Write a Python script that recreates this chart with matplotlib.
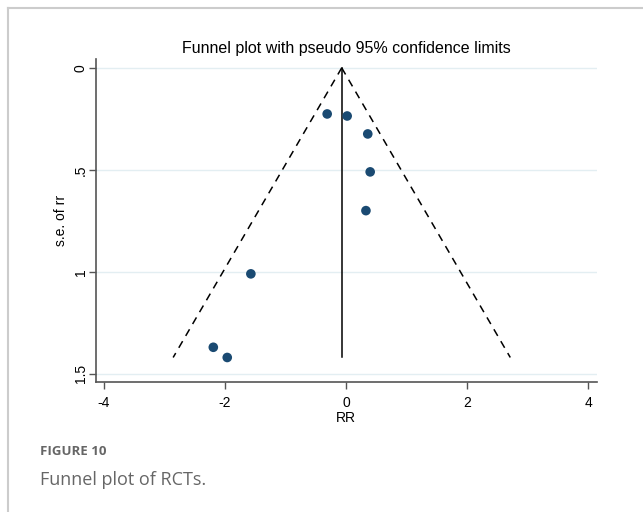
import numpy as np
import matplotlib
matplotlib.use("Agg")
import matplotlib.pyplot as plt
from matplotlib.lines import Line2D

plt.rcParams['font.family'] = ['Liberation Sans', 'DejaVu Sans']
plt.rcParams['axes.unicode_minus'] = False

# study estimates (log RR) and their standard errors
rr = [-0.31, 0.02, 0.36, 0.40, 0.33, -1.57, -2.19, -1.96]
se_rr = [0.226, 0.236, 0.324, 0.51, 0.70, 1.01, 1.37, 1.42]
pooled = -0.07

x_ticks = [-4, -2, 0, 2, 4]
y_ticks = [0, 0.5, 1, 1.5]
y_labels = ['0', '.5', '1', '1.5']

fig = plt.figure(figsize=(6.43, 5.12), dpi=100)
ax = fig.add_axes([0.149, 0.254, 0.779, 0.631])

# pseudo 95% limits
se_max = max(se_rr)
se_line = np.array([0, se_max])
ax.plot(pooled - 1.96 * se_line, se_line, color='black', lw=1.1, dashes=(5, 4))
ax.plot(pooled + 1.96 * se_line, se_line, color='black', lw=1.1, dashes=(5, 4))
ax.plot([pooled, pooled], [0, se_max], color='black', lw=1.1)

ax.scatter(rr, se_rr, s=48, color='#1a4a72', zorder=3, edgecolors='none')

ax.set_xlim(-4.13, 4.14)
ax.set_ylim(1.54, -0.044)
ax.set_xticks(x_ticks)
ax.set_yticks(y_ticks)
ax.set_yticklabels(y_labels, rotation=90, va='center')
ax.grid(axis='y', color='#e3eef2', lw=1)
ax.set_axisbelow(True)

for s in ['top', 'right']:
    ax.spines[s].set_visible(False)
for s in ['left', 'bottom']:
    ax.spines[s].set_color('#555555')
    ax.spines[s].set_linewidth(1.2)
ax.tick_params(colors='#555555', labelcolor='black', labelsize=10, length=5, width=1)
ax.tick_params(axis='y', pad=0.8)
ax.tick_params(axis='x', pad=5)

ax.set_xlabel('RR', fontsize=10, labelpad=1)
ax.set_ylabel('s.e. of rr', fontsize=10, labelpad=4)
ax.set_title('Funnel plot with pseudo 95% confidence limits', fontsize=11.5, pad=4)

# caption and frame
fig.text(0.062, 0.112, 'FIGURE 10', fontsize=9.5, color='#666666', fontweight='bold',
         family=['Open Sans', 'DejaVu Sans'])
fig.text(0.062, 0.053, 'Funnel plot of RCTs.', fontsize=13, color='#666666',
         family=['Open Sans', 'DejaVu Sans'])
fig.add_artist(Line2D([0.0125, 1.0], [0.984, 0.984], color='#cccccc', lw=1.5))
fig.add_artist(Line2D([0.0125, 0.0125], [0.0, 0.984], color='#cccccc', lw=1.5))

fig.savefig('out.png', dpi=100)
